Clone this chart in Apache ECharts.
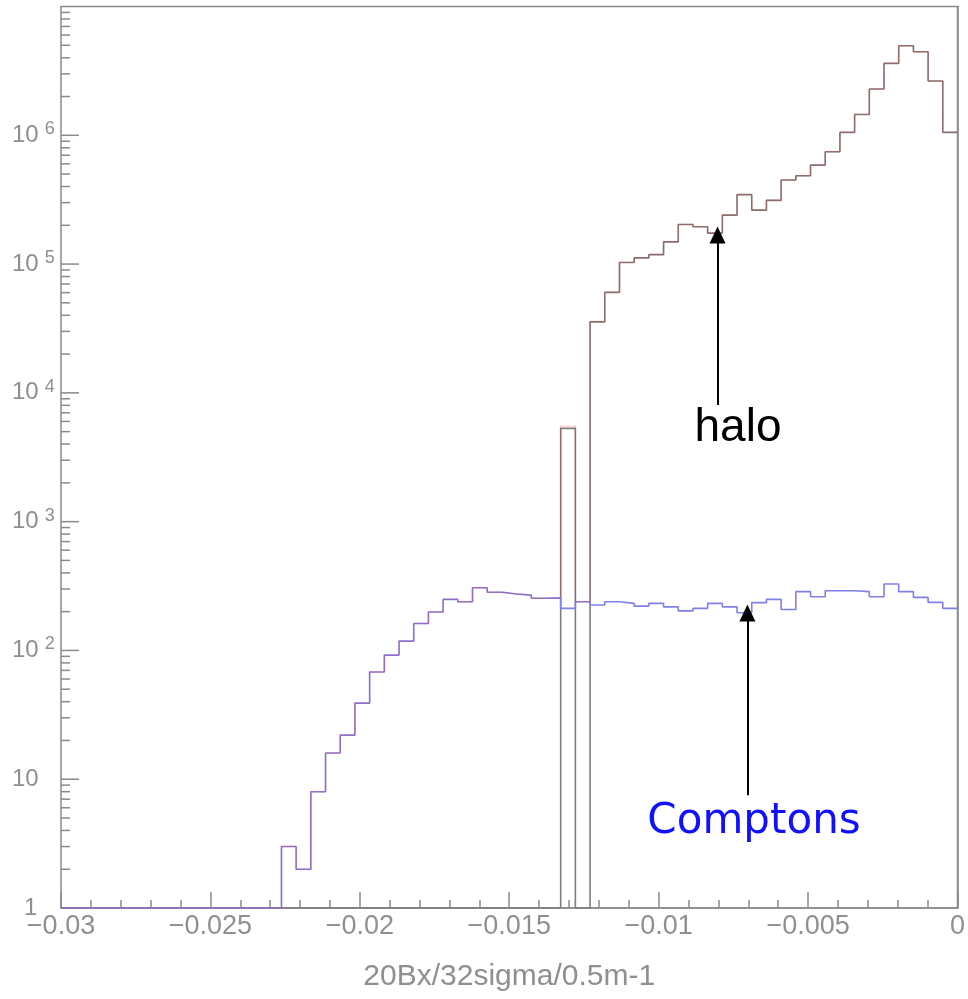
<!DOCTYPE html>
<html><head><meta charset="utf-8">
<script src="https://cdn.jsdelivr.net/npm/echarts@6/dist/echarts.min.js"></script>
<style>html,body{margin:0;padding:0;background:#fff}#c{width:968px;height:999px}</style>
</head><body><div id="c"></div>
<script>
// histogram binning
const xMin = -0.03, xMax = 0, nBins = 61;
// halo counts per bin (0 = empty)
const haloCounts = [
  0,0,0,0,0,0,0,0,0,0,
  0,0,0,0,0,0,0,0,0,0,
  0,0,0,0,0,0,0,0,0,0,
  0,0,0,0,5300,0,35600,60300,102800,111700,
  118300,148700,203000,195000,174000,240000,346000,262500,312500,449000,
  485000,587000,745000,1054000,1452000,2285000,3614000,4955000,4448000,2636000,
  1054000
];
// Compton counts per bin
const comptonCounts = [
  0,0,0,0,0,0,0,0,0,0,
  0,0,0,0,0,3,2,8,16,22,
  39,68,92,118,162,199,249,239,307,283,
  274,269,254,256,212,239,225,239,232,221,
  232,218,203,212,232,218,196,235,249,208,
  286,261,291,291,286,261,328,286,258,236,
  212
];
const xTickValues = [-0.03,-0.025,-0.02,-0.015,-0.01,-0.005,0];
const xTickLabels = ['\u22120.03','\u22120.025','\u22120.02','\u22120.015','\u22120.01','\u22120.005','0'];
const yTickValues = [1,10,100,1e3,1e4,1e5,1e6];
const yTickLabels = ['{one|1}','{b|10}','{b|10}{s|2}','{b|10}{s|3}','{b|10}{s|4}','{b|10}{s|5}','{b|10}{s|6}'];
const yMinorMultipliers = [2,3,4,5,6,7,8,9];
const yDecades = [1,10,100,1e3,1e4,1e5,1e6];
const axisTitle = '20Bx/32sigma/0.5m-1';
// annotations: [x, yStart, yTip]
const haloArrow = [-0.00803, 8040, 168000];
const comptonArrow = [-0.00703, 7.5, 195];
const annotations = [
  {text:'halo', x:738, y:428, color:'#000', font:'46px "Liberation Sans", Arial, sans-serif'},
  {text:'Comptons', x:754, y:822, color:'#1010ff', font:'42px "DejaVu Sans", sans-serif'}
];

const yFloor = 1;
const binWidth = (xMax - xMin) / nBins;
const totalCounts = haloCounts.map((h, i) => h + comptonCounts[i]);
function stepData(counts) {
  const d = counts.map((c, i) => [xMin + i * binWidth, Math.max(c, yFloor)]);
  d.push([xMax, Math.max(counts[nBins - 1], yFloor)]);
  return d;
}
function arrowLine(a) {
  return [{coord:[a[0], a[1]], symbol:'none'}, {coord:[a[0], a[2]], symbol:'triangle', symbolSize:[16,17]}];
}
// y-axis tick marks: [x, value, length]
const yTickMarks = [];
yDecades.forEach(d => {
  if (d > 1) yTickMarks.push([xMin, d, 18]);
  yMinorMultipliers.forEach(m => yTickMarks.push([xMin, d * m, 9]));
});

const gray = '#8a8a8a';
const labelFont = '"Liberation Sans", Arial, sans-serif';
const chart = echarts.init(document.getElementById('c'), null, {renderer:'canvas'});
chart.setOption({
  animation: false,
  backgroundColor: '#fff',
  grid: {left:61, right:7, top:6.5, bottom:91, show:true, borderColor:gray, borderWidth:1.5},
  xAxis: {
    type:'value', min:xMin, max:xMax, interval:0.005,
    axisLine:{show:true, lineStyle:{color:gray, width:1.5}},
    axisTick:{show:true, inside:true, length:16, lineStyle:{color:gray, width:1.5}},
    minorTick:{show:true, splitNumber:5, length:8, lineStyle:{color:gray, width:1.5}},
    splitLine:{show:false},
    axisLabel:{
      color:'#8f8f8f', fontSize:27, fontFamily:labelFont, margin:5,
      formatter: v => { const i = xTickValues.findIndex(t => Math.abs(t - v) < 1e-9); return i >= 0 ? xTickLabels[i] : ''; }
    },
    name: axisTitle, nameLocation:'middle', nameGap:54,
    nameTextStyle:{color:'#8f8f8f', fontSize:30, fontFamily:labelFont}
  },
  yAxis: {
    type:'log', logBase:10, min:1, max:1e7,
    axisLine:{show:true, lineStyle:{color:gray, width:1.5}},
    axisTick:{show:false},
    minorTick:{show:false},
    splitLine:{show:false},
    axisLabel:{
      showMaxLabel:false, margin:49, align:'left',
      formatter: v => { const i = yTickValues.findIndex(t => Math.abs(Math.log10(t) - Math.log10(v)) < 1e-6); return i >= 0 ? yTickLabels[i] : ''; },
      rich:{
        b:{color:'#8f8f8f', fontSize:24, lineHeight:30, fontFamily:labelFont},
        one:{color:'#8f8f8f', fontSize:24, lineHeight:30, padding:[0,0,0,12], fontFamily:labelFont},
        s:{color:'#8f8f8f', fontSize:18, lineHeight:18, verticalAlign:'top', padding:[0,0,0,6], fontFamily:labelFont}
      }
    }
  },
  series: [
    {name:'halo', type:'line', step:'end', data:stepData(haloCounts), showSymbol:false, silent:true, z:2,
     lineStyle:{color:'#7d7d7d', width:1.6}},
    {name:'Comptons', type:'line', step:'end', data:stepData(comptonCounts), showSymbol:false, silent:true, z:3,
     lineStyle:{color:'#8080ea', width:1.6},
     markLine:{silent:true, animation:false, label:{show:false}, lineStyle:{color:'#000', width:2, type:'solid'},
       emphasis:{disabled:true}, data:[arrowLine(haloArrow), arrowLine(comptonArrow)]}},
    {name:'total', type:'line', step:'end', data:stepData(totalCounts), showSymbol:false, silent:true, z:4,
     lineStyle:{color:'#e03030', width:1.4, opacity:0.24}},
    {name:'yTicks', type:'custom', data:yTickMarks, silent:true, z:5,
     renderItem:(params, api) => {
       const p = api.coord([api.value(0), api.value(1)]);
       return {type:'line', shape:{x1:p[0], y1:p[1], x2:p[0] + api.value(2), y2:p[1]}, style:{stroke:gray, lineWidth:1.5}};
     }}
  ],
  graphic: annotations.map(a => ({type:'text', x:a.x, y:a.y, silent:true,
    style:{text:a.text, fill:a.color, font:a.font, textAlign:'center', textVerticalAlign:'middle'}}))
});
</script></body></html>
